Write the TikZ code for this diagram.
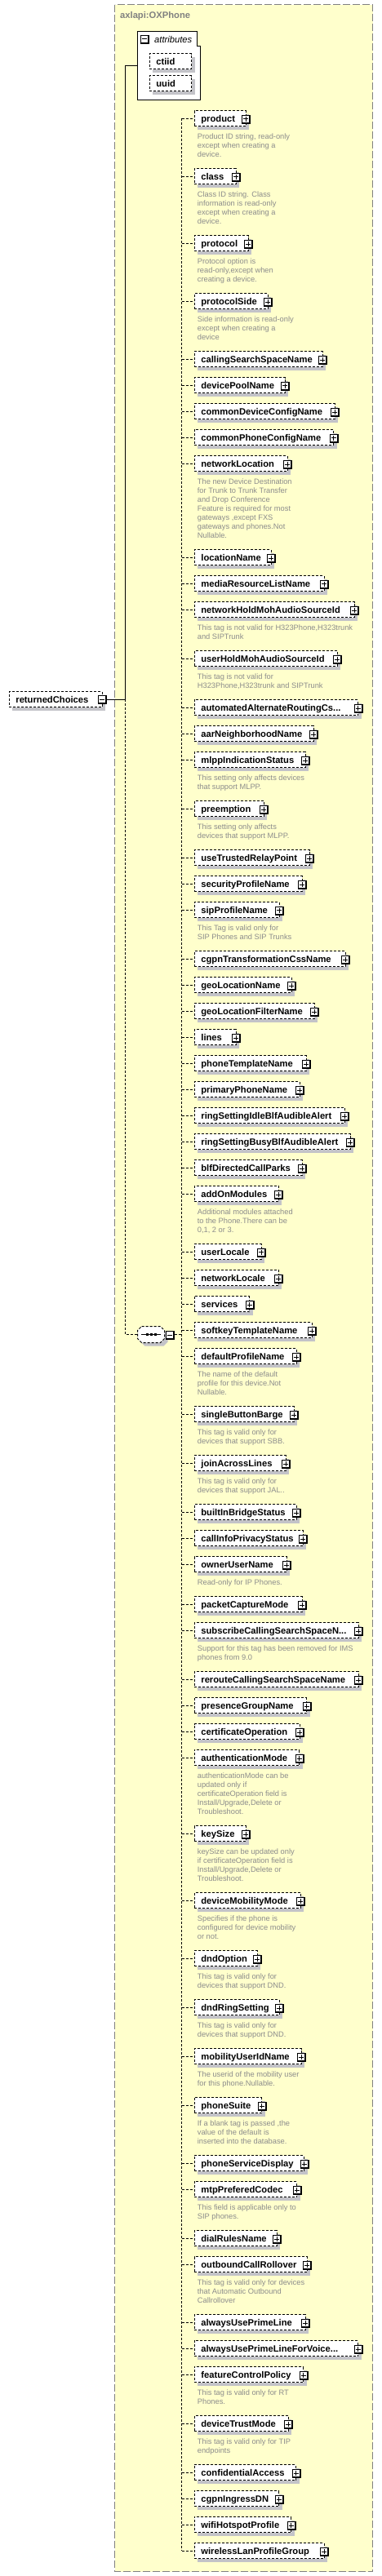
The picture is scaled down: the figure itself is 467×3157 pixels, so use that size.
\documentclass[tikz,border=0pt]{standalone}
\usepackage{fontspec}
\setmainfont{Liberation Sans}
\usetikzlibrary{shadows}
\definecolor{bgyellow}{RGB}{255,255,204}
\definecolor{outergray}{RGB}{128,128,128}
\definecolor{descgray}{RGB}{140,140,140}
\definecolor{shgray}{RGB}{195,195,200}
\newcommand{\elfont}{\fontsize{11.2}{13}\selectfont\bfseries}
\newcommand{\descfont}{\fontsize{9.3}{11}\selectfont}
\tikzset{
 dsh/.style={dash pattern=on 3pt off 2pt},
 elbox/.style={draw, dsh, fill=white, line width=1pt, anchor=west, minimum height=19pt,
   inner xsep=8.4pt, inner ysep=0pt, text height=8pt, text depth=0pt, font=\elfont,
   drop shadow={shadow xshift=4pt, shadow yshift=-4pt, fill=shgray, opacity=1}},
 desc/.style={anchor=north west, inner sep=0pt, align=left, font=\descfont, text=descgray},
 conn/.style={draw, dsh, line width=1pt},
 solidconn/.style={draw, line width=1pt},
}
\newcommand{\xicon}[2]{%
 \begin{scope}[shift={(#1)}]
  \fill[black] (-5.5,-5.5) rectangle (5.5,5.5);
  \fill[white] (-4.5,-4.5) rectangle (3.5,3.5);
  \draw[line width=1pt] (-3.5,-0.5) -- (2.5,-0.5);
  \ifnum#2=1 \draw[line width=1pt] (-0.5,-3.5) -- (-0.5,2.5);\fi
 \end{scope}}
\newcommand{\xel}[4]{%
 \node[elbox, minimum width={#3pt-237.5pt}] (#1) at (237.5,#2) {\makebox[\dimexpr#3pt-254.3pt\relax][l]{#4}};
 \coordinate (#1-ic) at ([yshift=-1.2pt]#1.east);
 \xicon{#1-ic}{1}
 \draw[conn] (spine |- #1.west) -- (#1.west);}
\newcommand{\xeld}[5]{\xel{#1}{#2}{#3}{#4}\node[desc] (#1-d) at (241.7,#2+18.2) {\rule{0pt}{6.8pt}#5};}
\newcommand{\seqpath}{(173.5,1625.5) -- (196.5,1625.5) -- (201.5,1630.5) -- (201.5,1640.5) -- (196.5,1645.5) -- (173.5,1645.5) -- (168.5,1640.5) -- (168.5,1630.5) -- cycle}
\begin{document}
\begin{tikzpicture}[x=1pt,y=-1pt]
\useasboundingbox (0,0) rectangle (467,3157);
% outer complex type box
\draw[outergray, line width=1pt, dash pattern=on 9pt off 3pt, fill=bgyellow] (140.5,5.5) rectangle (456.5,3151.5);
\node[anchor=base west, inner sep=0pt, font=\fontsize{11.2}{13}\selectfont\bfseries, text=outergray] (title) at (147,22.7) {axlapi:OXPhone};
% attributes
\draw[line width=1pt, fill=white] (168.5,38.5) -- (241.5,38.5) -- (241.5,56.5) -- (245.5,56.5) -- (245.5,122.5) -- (168.5,122.5) -- cycle;
\coordinate (attric) at (177.8,48.2);
\xicon{attric}{0}
\node[anchor=base west, inner sep=0pt, font=\fontsize{11.2}{13}\selectfont\itshape] (attrlabel) at (189,52.3) {attributes};
\node[elbox, minimum width=51.5pt] (ctiid) at (182.5,75) {\makebox[\dimexpr51.5pt-16.8pt\relax][l]{ctiid}};
\node[elbox, minimum width=51.5pt] (uuid) at (182.5,102) {\makebox[\dimexpr51.5pt-16.8pt\relax][l]{uuid}};
\coordinate (attrL) at (168.5,80.5);
% root element
\node[elbox, minimum width=114pt] (rc) at (10.5,857) {\makebox[\dimexpr114pt-16.8pt\relax][l]{returnedChoices}};
\coordinate (rc-ic) at ([yshift=-0.5pt]rc.east);
\xicon{rc-ic}{0}
\coordinate (j) at (153.5,857);
\draw[solidconn] (attrL) -| (j);
\draw[solidconn] ([xshift=5.5pt]rc.east) -- (j);
% sequence compositor
\node[minimum width=33pt, minimum height=20pt, inner sep=0pt] (seq) at (185,1635.5) {};
\begin{scope}[shift={(4,4)}]
\fill[shgray] \seqpath;
\end{scope}
\draw[dsh, line width=1pt, fill=white] \seqpath;
\draw[line width=1pt] (173,1635.5) -- (197,1635.5);
\fill (178.5,1634) rectangle (181.5,1637);
\fill (183.5,1634) rectangle (186.5,1637);
\fill (188.5,1634) rectangle (191.5,1637);
\coordinate (seq-ic) at ([xshift=6.3pt,yshift=-1pt]seq.east);
\xicon{seq-ic}{0}
\draw[conn] (j) |- (seq.west);
\coordinate (spine) at (222.5,145);
\draw[conn] ([xshift=11.8pt]seq.east) -- (spine |- seq.east);
% children
\xeld{product}{145}{300.5}{product}{Product ID string, read-only\\except when creating a\\device.}
\xeld{class}{216}{288.5}{class}{Class ID string. Class\\information is read-only\\except when creating a\\device.}
\xeld{protocol}{298.3}{303.8}{protocol}{Protocol option is\\read-only,except when\\creating a device.}
\xeld{protocolSide}{369.3}{327.5}{protocolSide}{Side information is read-only\\except when creating a\\device}
\xel{callingSearchSpaceName}{440.3}{394.5}{callingSearchSpaceName}
\xel{devicePoolName}{472}{348.8}{devicePoolName}
\xel{commonDeviceConfigName}{504.3}{409.5}{commonDeviceConfigName}
\xel{commonPhoneConfigName}{536}{408.2}{commonPhoneConfigName}
\xeld{networkLocation}{568.3}{351.5}{networkLocation}{The new Device Destination\\for Trunk to Trunk Transfer\\and Drop Conference\\Feature is required for most\\gateways ,except FXS\\gateways and phones.Not\\Nullable.}
\xel{locationName}{683.3}{331.5}{locationName}
\xel{mediaResourceListName}{715}{396.5}{mediaResourceListName}
\xeld{networkHoldMohAudioSourceId}{747.3}{433.8}{networkHoldMohAudioSourceId}{This tag is not valid for H323Phone,H323trunk\\and SIPTrunk}
\xeld{userHoldMohAudioSourceId}{807.3}{412.8}{userHoldMohAudioSourceId}{This tag is not valid for\\H323Phone,H323trunk and SIPTrunk}
\xel{aarCss}{867.3}{438.2}{automatedAlternateRoutingCs...}
\xel{aarNeighborhoodName}{899.3}{383.5}{aarNeighborhoodName}
\xeld{mlppIndicationStatus}{931.3}{373.5}{mlppIndicationStatus}{This setting only affects devices\\that support MLPP.}
\xeld{preemption}{991.3}{322.8}{preemption}{This setting only affects\\devices that support MLPP.}
\xel{useTrustedRelayPoint}{1051.3}{378.8}{useTrustedRelayPoint}
\xel{securityProfileName}{1083.3}{369.5}{securityProfileName}
\xeld{sipProfileName}{1115}{341.5}{sipProfileName}{This Tag is valid only for\\SIP Phones and SIP Trunks}
\xel{cgpnTransformationCssName}{1175.3}{422.5}{cgpnTransformationCssName}
\xel{geoLocationName}{1207.3}{356.5}{geoLocationName}
\xel{geoLocationFilterName}{1239.3}{384.5}{geoLocationFilterName}
\xel{lines}{1271.3}{288.5}{lines}
\xel{phoneTemplateName}{1303.3}{374.5}{phoneTemplateName}
\xel{primaryPhoneName}{1335.3}{366.5}{primaryPhoneName}
\xel{ringSettingIdleBlfAudibleAlert}{1367.3}{421.8}{ringSettingIdleBlfAudibleAlert}
\xel{ringSettingBusyBlfAudibleAlert}{1399.3}{428.8}{ringSettingBusyBlfAudibleAlert}
\xel{blfDirectedCallParks}{1431.3}{369.5}{blfDirectedCallParks}
\xeld{addOnModules}{1463.3}{340.8}{addOnModules}{Additional modules attached\\to the Phone.There can be\\0,1, 2 or 3.}
\xel{userLocale}{1534}{319.5}{userLocale}
\xel{networkLocale}{1566.3}{340.8}{networkLocale}
\xel{services}{1598.3}{305.2}{services}
\xel{softkeyTemplateName}{1630.3}{381.5}{softkeyTemplateName}
\xeld{defaultProfileName}{1662.3}{362.5}{defaultProfileName}{The name of the default\\profile for this device.Not\\Nullable.}
\xeld{singleButtonBarge}{1733.3}{359.5}{singleButtonBarge}{This tag is valid only for\\devices that support SBB.}
\xeld{joinAcrossLines}{1793.3}{349.5}{joinAcrossLines}{This tag is valid only for\\devices that support JAL..}
\xel{builtInBridgeStatus}{1853.3}{362.5}{builtInBridgeStatus}
\xel{callInfoPrivacyStatus}{1885.3}{370.5}{callInfoPrivacyStatus}
\xeld{ownerUserName}{1917.3}{350.5}{ownerUserName}{Read-only for IP Phones.}
\xel{packetCaptureMode}{1966.3}{369.5}{packetCaptureMode}
\xeld{subscribeCss}{1998.3}{438.5}{subscribeCallingSearchSpaceN...}{Support for this tag has been removed for IMS\\phones from 9.0}
\xel{rerouteCallingSearchSpaceName}{2058.3}{438.5}{rerouteCallingSearchSpaceName}
\xel{presenceGroupName}{2090.3}{375.2}{presenceGroupName}
\xel{certificateOperation}{2122.3}{366.8}{certificateOperation}
\xeld{authenticationMode}{2154.3}{366.2}{authenticationMode}{authenticationMode can be\\updated only if\\certificateOperation field is\\Install/Upgrade,Delete or\\Troubleshoot.}
\xeld{keySize}{2247.3}{300.5}{keySize}{keySize can be updated only\\if certificateOperation field is\\Install/Upgrade,Delete or\\Troubleshoot.}
\xeld{deviceMobilityMode}{2329.3}{367.8}{deviceMobilityMode}{Specifies if the phone is\\configured for device mobility\\or not.}
\xeld{dndOption}{2400.3}{314.5}{dndOption}{This tag is valid only for\\devices that support DND.}
\xeld{dndRingSetting}{2460.3}{341.5}{dndRingSetting}{This tag is valid only for\\devices that support DND.}
\xeld{mobilityUserIdName}{2520.3}{368.8}{mobilityUserIdName}{The userid of the mobility user\\for this phone.Nullable.}
\xeld{phoneSuite}{2580.3}{320.2}{phoneSuite}{If a blank tag is passed ,the\\value of the default is\\inserted into the database.}
\xel{phoneServiceDisplay}{2651.3}{372.2}{phoneServiceDisplay}
\xeld{mtpPreferedCodec}{2683.3}{363.2}{mtpPreferedCodec}{This field is applicable only to\\SIP phones.}
\xel{dialRulesName}{2743.3}{338.5}{dialRulesName}
\xeld{outboundCallRollover}{2775.3}{375.5}{outboundCallRollover}{This tag is valid only for devices\\that Automatic Outbound\\Callrollover}
\xel{alwaysUsePrimeLine}{2846.3}{373.5}{alwaysUsePrimeLine}
\xel{alwaysUsePrimeLineForVoice}{2878.3}{438.2}{alwaysUsePrimeLineForVoice...}
\xeld{featureControlPolicy}{2910.3}{371.2}{featureControlPolicy}{This tag is valid only for RT\\Phones.}
\xeld{deviceTrustMode}{2970.3}{352.8}{deviceTrustMode}{This tag is valid only for TIP\\endpoints}
\xel{confidentialAccess}{3030.3}{362.2}{confidentialAccess}
\xel{cgpnIngressDN}{3062.3}{341.2}{cgpnIngressDN}
\xel{wifiHotspotProfile}{3094.3}{356.2}{wifiHotspotProfile}
\xel{wirelessLanProfileGroup}{3126.3}{396.5}{wirelessLanProfileGroup}
\draw[conn] (spine) -- (spine |- wirelessLanProfileGroup.west);
\end{tikzpicture}
\end{document}
